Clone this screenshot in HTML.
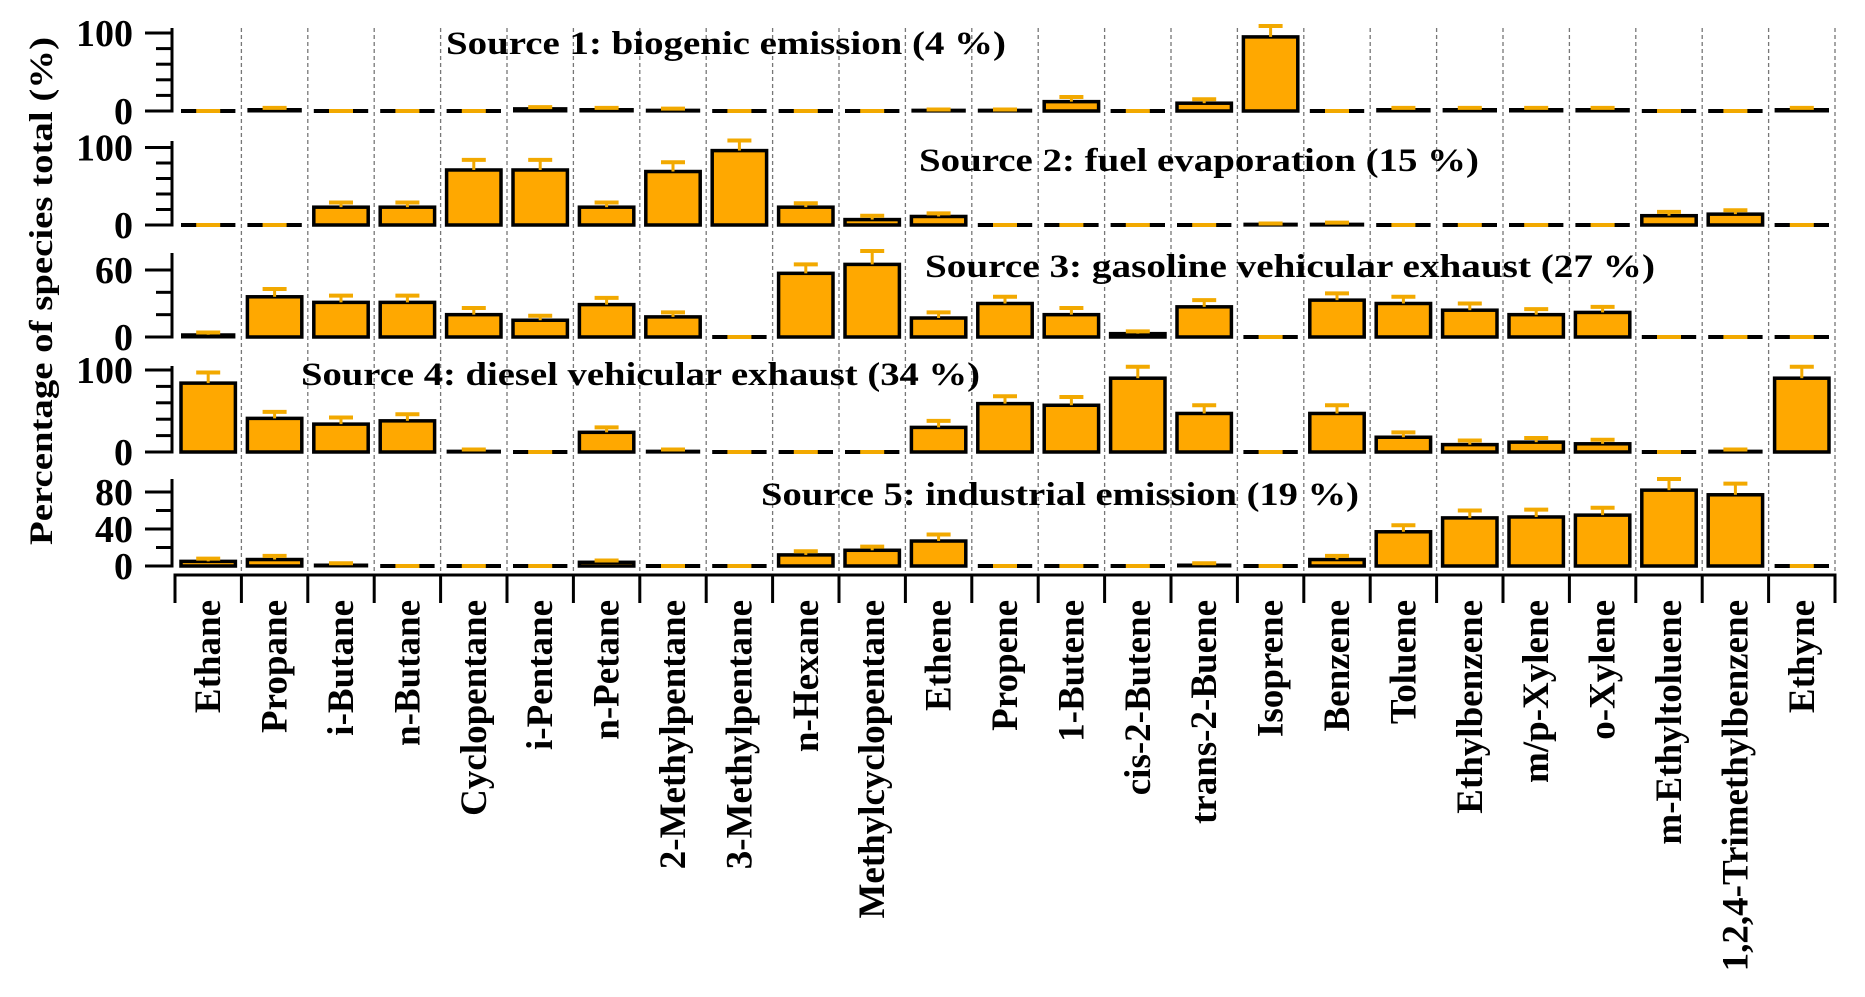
<!DOCTYPE html>
<html><head><meta charset="utf-8"><style>
html,body{margin:0;padding:0;background:#fff;}
svg{display:block;font-family:"Liberation Serif","Times New Roman",serif;font-weight:bold;}
</style></head><body>
<svg id="chart" width="1865" height="997" viewBox="0 0 1865 997" xmlns="http://www.w3.org/2000/svg">
<text x="0" y="0" transform="translate(52,291) rotate(-90)" text-anchor="middle" font-size="33" textLength="508" lengthAdjust="spacingAndGlyphs">Percentage of species total (%)</text>
</svg>
<script>
const categories = ["Ethane","Propane","i-Butane","n-Butane","Cyclopentane","i-Pentane","n-Petane","2-Methylpentane","3-Methylpentane","n-Hexane","Methylcyclopentane","Ethene","Propene","1-Butene","cis-2-Butene","trans-2-Buene","Isoprene","Benzene","Toluene","Ethylbenzene","m/p-Xylene","o-Xylene","m-Ethyltoluene","1,2,4-Trimethylbenzene","Ethyne"];
const s1 = [0,2,0,0,0,3,2,1,0,0,0,1,1,12,0,10,95,0,2,2,2,2,0,0,2];
const e1 = [0,2,0,0,0,2,2,2,0,0,0,1,1,6,0,5,14,0,2,2,2,2,0,0,2];
const s2 = [0,0,23,23,71,71,23,69,96,23,7,11,0,0,0,0,1,1,0,0,0,0,12,14,0];
const e2 = [0,0,6,6,13,13,6,12,13,5,5,4,0,0,0,0,1,2,0,0,0,0,5,5,0];
const s3 = [2,36,31,31,20,15,29,18,0,57,65,17,30,20,3,27,0,33,30,24,20,22,0,0,0];
const e3 = [2,7,6,6,6,4,6,4,0,8,12,5,6,6,2,6,0,6,6,6,5,5,0,0,0];
const s4 = [84,41,34,38,1,0,24,1,0,0,0,30,59,57,90,47,0,47,18,9,12,10,0,1,90];
const e4 = [13,8,8,8,2,0,6,2,0,0,0,8,9,10,14,10,0,10,6,5,5,5,0,2,14];
const s5 = [5,7,1,0,0,0,4,0,0,12,17,27,0,0,0,1,0,7,37,52,53,55,82,77,0];
const e5 = [3,4,2,0,0,0,2,0,0,4,4,7,0,0,0,2,0,4,7,8,8,8,12,12,0];
const titles = ["Source 1:  biogenic emission (4 %)","Source 2:  fuel evaporation (15 %)","Source 3:  gasoline vehicular exhaust (27 %)","Source 4: diesel vehicular exhaust (34 %)","Source 5: industrial emission (19 %)"];
const tickLabels1 = [0,100];
const tickLabels2 = [0,100];
const tickLabels3 = [0,60];
const tickLabels4 = [0,100];
const tickLabels5 = [0,40,80];

const NS = "http://www.w3.org/2000/svg";
const svg = document.getElementById('chart');
function mk(tag, attrs, parent){const e=document.createElementNS(NS,tag);for(const k in attrs)e.setAttribute(k,attrs[k]);(parent||svg).appendChild(e);return e;}
const X0 = 175, CW = 66.4;
const xOf = i => X0 + CW*i;
const panels = [
 {vals:s1,errs:e1,zero:111,ppu:0.78,top:28,max:100,labels:tickLabels1,tx:446,ty:54,tw:560},
 {vals:s2,errs:e2,zero:225,ppu:0.775,top:141,max:100,labels:tickLabels2,tx:919,ty:171,tw:560},
 {vals:s3,errs:e3,zero:337,ppu:1.117,top:253,max:60,labels:tickLabels3,tx:925,ty:277,tw:730},
 {vals:s4,errs:e4,zero:452,ppu:0.82,top:366,max:100,labels:tickLabels4,tx:301,ty:385,tw:679},
 {vals:s5,errs:e5,zero:566,ppu:0.925,top:479,max:80,labels:tickLabels5,tx:761,ty:505,tw:598}
];
for(let k=1;k<=categories.length;k++){
  const l=mk('line',{x1:xOf(k),x2:xOf(k),y1:28,y2:575,stroke:'#777','stroke-width':1.3,'stroke-dasharray':'4,3'});
  
  
}
panels.forEach((p,pi)=>{
  const g=mk('g',{});
  
  
  const yv=v=>p.zero-v*p.ppu;
  const ax=mk('line',{x1:172,x2:172,y1:p.top,y2:p.zero+1.5,stroke:'#000','stroke-width':3},g);
  
  
  for(let v=0;v<=p.max;v+=20){
    const major=p.labels.includes(v);
    const t=mk('line',{x1:major?145:156,x2:172,y1:yv(v),y2:yv(v),stroke:'#000','stroke-width':3},g);
    
    
  }
  p.labels.forEach(v=>{
    const t=mk('text',{x:133,y:yv(v)+13,'text-anchor':'end','font-size':38},g);
    t.textContent=v;
    
    
  });
  p.vals.forEach((v,i)=>{
    const bx=xOf(i)+6, bw=CW-12;
    const h=Math.max(v*p.ppu,0);
    if(h<2.5){
      const r=mk('line',{x1:bx,x2:bx+bw,y1:p.zero-h/2,y2:p.zero-h/2,stroke:'#000','stroke-width':Math.max(4,h+3)},g);
      
      
    } else {
      const r=mk('rect',{x:bx,y:p.zero-h,width:bw,height:h,fill:'#FFA800',stroke:'#000','stroke-width':3.5},g);
      
      
    }
    const cx=bx+bw/2, top=yv(v+p.errs[i]);
    const eb=mk('line',{x1:cx,x2:cx,y1:p.zero-h,y2:top,stroke:'#F2A900','stroke-width':3},g);
    
    
    const cap=mk('line',{x1:cx-12,x2:cx+12,y1:top,y2:top,stroke:'#F2A900','stroke-width':4},g);
    
    
  });
  const tt=mk('text',{x:p.tx,y:p.ty,'font-size':33,textLength:p.tw,lengthAdjust:'spacingAndGlyphs'},g);
  tt.textContent=titles[pi];
  
  
});
const xa=mk('line',{x1:173.5,x2:xOf(categories.length)+1.5,y1:575,y2:575,stroke:'#000','stroke-width':3});


for(let k=0;k<=categories.length;k++){
  const t=mk('line',{x1:xOf(k),x2:xOf(k),y1:575,y2:603,stroke:'#000','stroke-width':3});
  
  
}
categories.forEach((c,i)=>{
  const cx=xOf(i)+CW/2+12;
  const t=mk('text',{x:0,y:0,transform:`translate(${cx},600) rotate(-90)`,'text-anchor':'end','font-size':37});
  t.textContent=c;
  
  
});
</script>
</body></html>
